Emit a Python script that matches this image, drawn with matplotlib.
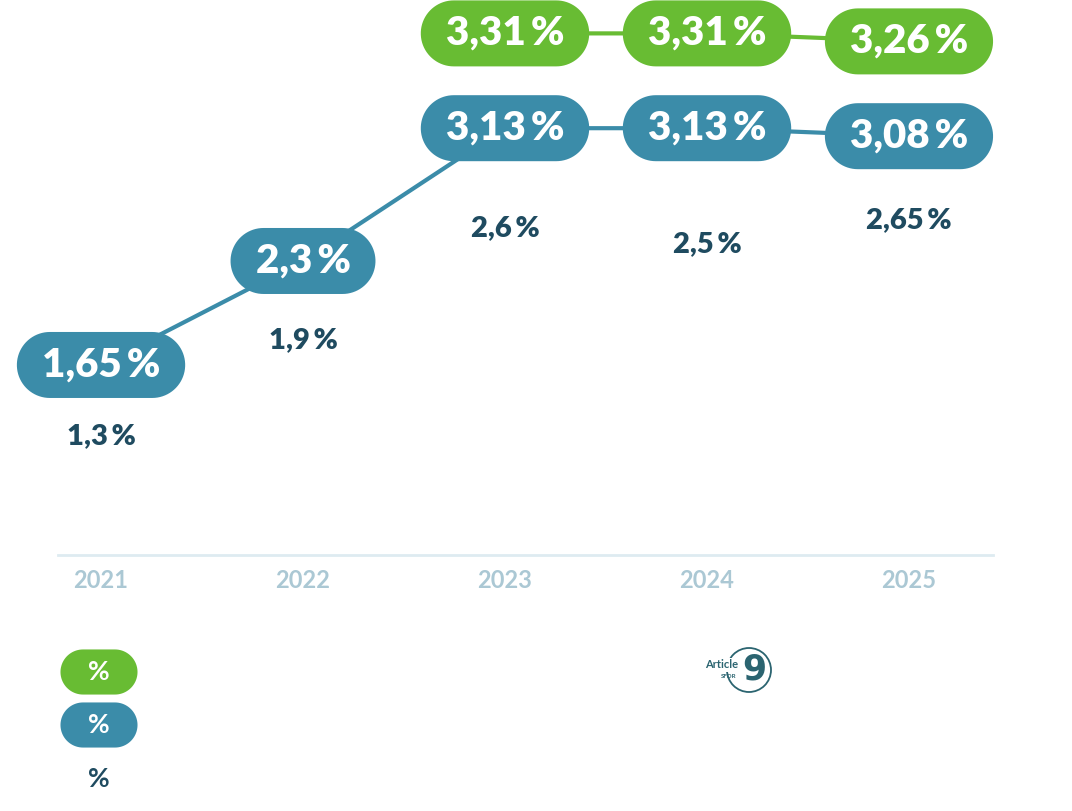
import numpy as np
import matplotlib.pyplot as plt
from matplotlib.path import Path
from matplotlib.patches import Ellipse
from matplotlib.transforms import offset_copy

plt.rcParams['font.family'] = ['Lato', 'DejaVu Sans']

years = [2021, 2022, 2023, 2024, 2025]
green_years = [2023, 2024, 2025]
green_vals = [3.31, 3.31, 3.26]
blue_vals = [1.65, 2.3, 3.13, 3.13, 3.08]
dark_vals = [1.3, 1.9, 2.6, 2.5, 2.65]

green = '#68bc33'
blue = '#3b8ca9'
dark = '#1f4b60'
year_col = '#abc8d4'
logo_col = '#2b6470'


def fmt(v):
    s = f"{v:.2f}".rstrip('0').rstrip('.')
    return s.replace('.', ',') + '\u2009%'


def make_pill(fx, fy):
    # rounded "pill" box, separate horizontal/vertical padding
    def pill(x0, y0, width, height, mutation_size):
        px = fx * mutation_size
        py = fy * mutation_size
        x0 -= px
        y0 -= py
        w = width + 2 * px
        h = height + 2 * py
        r = h / 2
        t1 = np.linspace(-np.pi / 2, np.pi / 2, 40)
        t2 = np.linspace(np.pi / 2, 3 * np.pi / 2, 40)
        right = np.column_stack([x0 + w - r + r * np.cos(t1), y0 + r + r * np.sin(t1)])
        left = np.column_stack([x0 + r + r * np.cos(t2), y0 + r + r * np.sin(t2)])
        verts = np.vstack([right, left, right[:1]])
        return Path(verts, closed=True)
    return pill


big_pill = make_pill(0.62, 0.36)

fig = plt.figure(figsize=(10.72, 8.11), dpi=100)
W, H = 1072, 811
ax = fig.add_axes([58 / W, 1 - 555 / H, (993 - 58) / W, 555 / H])
ax.set_xlim(2020.787, 2025.416)
ax.set_ylim(0.556, 4.025)
ax.axis('off')

# baseline
ax.axhline(ax.get_ylim()[0], color='#deebf1', lw=2, clip_on=False)

tr_blue = offset_copy(ax.transData, fig=fig, y=15, units='dots')
tr_green = offset_copy(ax.transData, fig=fig, y=81, units='dots')

# third series (white line and white pills)
ax.plot(years, dark_vals, color='white', lw=3, zorder=1)
for x, v in zip(years, dark_vals):
    ax.text(x, v, fmt(v), ha='center', va='center', fontsize=21,
            fontweight='heavy', color=dark, zorder=3,
            bbox=dict(boxstyle=big_pill, fc='white', ec='none'))

ax.plot(years, blue_vals, color=blue, lw=3, transform=tr_blue, zorder=2)
for x, v in zip(years, blue_vals):
    ax.text(x, v, fmt(v), ha='center', va='center', fontsize=29,
            fontweight='heavy', color='white', transform=tr_blue, zorder=4,
            bbox=dict(boxstyle=big_pill, fc=blue, ec='none'))

ax.plot(green_years, green_vals, color=green, lw=3, transform=tr_green, zorder=2)
for x, v in zip(green_years, green_vals):
    ax.text(x, v, fmt(v), ha='center', va='center', fontsize=29,
            fontweight='heavy', color='white', transform=tr_green, zorder=4,
            bbox=dict(boxstyle=big_pill, fc=green, ec='none'))

for x in years:
    ax.text(x, ax.get_ylim()[0], str(x), ha='center', va='top', fontsize=17,
            color=year_col, fontweight='bold',
            transform=offset_copy(ax.transData, fig=fig, y=-14, units='dots'))

# legend
leg_pill = make_pill(1.05, 0.4)
leg_cols = [green, blue, 'white']
leg_text_cols = ['white', 'white', dark]
leg_y = [672, 725, 779]
for fc, tc, yy in zip(leg_cols, leg_text_cols, leg_y):
    fig.text(99 / W, 1 - yy / H, '%', ha='center', va='center', fontsize=19,
             fontweight='bold', color=tc,
             bbox=dict(boxstyle=leg_pill, fc=fc, ec='none'))

# Article 9 SFDR badge
fig.add_artist(Ellipse((749 / W, 1 - 670 / H), 44 / W, 44 / H, fc='none',
                       ec=logo_col, lw=1.3))
fig.text(722 / W, 1 - 665 / H, 'Article', ha='center', va='center', fontsize=8,
         fontweight='bold', color=logo_col,
         bbox=dict(boxstyle='square,pad=0.1', fc='white', ec='none'))
fig.text(729 / W, 1 - 677 / H, 'SFDR', ha='center', va='center', fontsize=4.5,
         fontweight='bold', color=logo_col)
fig.text(754 / W, 1 - 669 / H, '9', ha='center', va='center', fontsize=25,
         fontweight='black', color=logo_col, family=['DejaVu Sans'])

fig.savefig('out.png', dpi=100, facecolor='white')
